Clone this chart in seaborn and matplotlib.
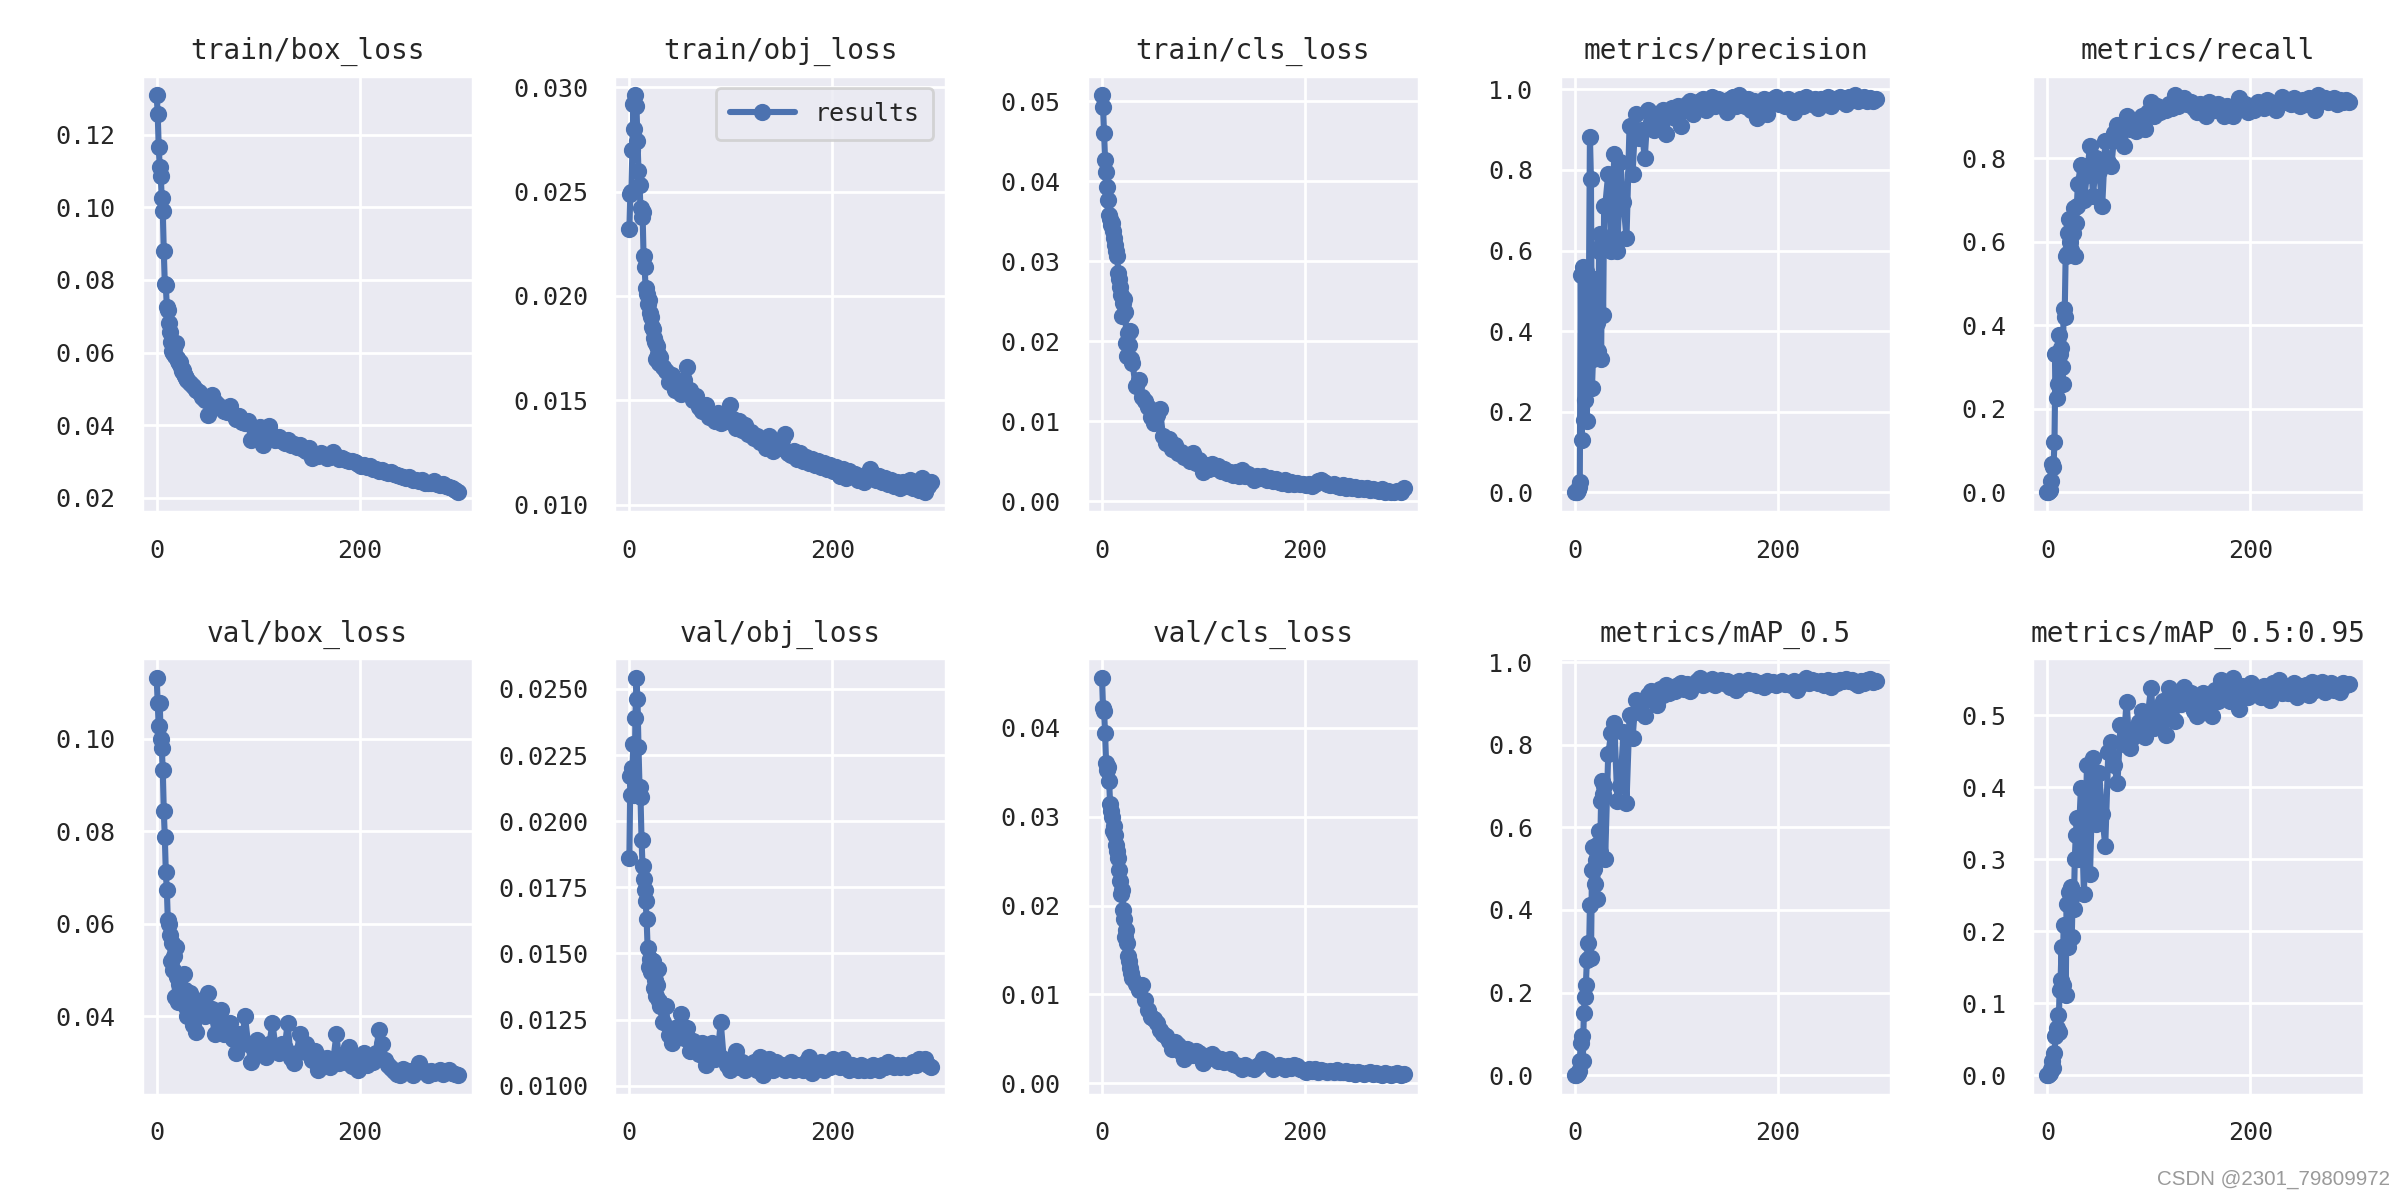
import matplotlib
matplotlib.use('Agg')
import matplotlib.pyplot as plt
import seaborn as sns

# epochs: every epoch for the first 30, then every third epoch
epochs = list(range(0, 30)) + list(range(30, 300, 3))

train_box_loss = [
    0.1308, 0.1258, 0.1166, 0.1111, 0.1085, 0.1026, 0.0990, 0.0879, 0.0790, 0.0785,
    0.0726, 0.0716, 0.0680, 0.0657, 0.0630, 0.0605, 0.0598, 0.0612, 0.0590, 0.0625,
    0.0585, 0.0578, 0.0570, 0.0575, 0.0560, 0.0548, 0.0552, 0.0540, 0.0535, 0.0530,
    0.0525, 0.0515, 0.0508, 0.0498, 0.0492, 0.0478, 0.0470, 0.0428, 0.0482, 0.0465,
    0.0455, 0.0448, 0.0440, 0.0435, 0.0452, 0.0430, 0.0418, 0.0425, 0.0410, 0.0405,
    0.0412, 0.0360, 0.0392, 0.0385, 0.0395, 0.0345, 0.0380, 0.0398, 0.0372, 0.0360,
    0.0368, 0.0355, 0.0350, 0.0358, 0.0345, 0.0348, 0.0340, 0.0345, 0.0335, 0.0330,
    0.0338, 0.0310, 0.0320, 0.0315, 0.0322, 0.0318, 0.0310, 0.0312, 0.0325, 0.0315,
    0.0308, 0.0310, 0.0305, 0.0302, 0.0300, 0.0298, 0.0292, 0.0288, 0.0290, 0.0285,
    0.0288, 0.0280, 0.0278, 0.0275, 0.0277, 0.0270, 0.0268, 0.0270, 0.0265, 0.0262,
    0.0260, 0.0258, 0.0255, 0.0257, 0.0250, 0.0248, 0.0245, 0.0248, 0.0242, 0.0240,
    0.0242, 0.0245, 0.0238, 0.0235, 0.0237, 0.0232, 0.0230, 0.0228, 0.0222, 0.0215,
]
train_obj_loss = [
    0.0232, 0.0249, 0.0250, 0.0270, 0.0292, 0.0280, 0.0296, 0.0291, 0.0274, 0.0260,
    0.0253, 0.0242, 0.0238, 0.0240, 0.0219, 0.0214, 0.0204, 0.0201, 0.0196, 0.0198,
    0.0192, 0.0190, 0.0185, 0.0184, 0.0180, 0.0178, 0.0170, 0.0176, 0.0172, 0.0168,
    0.0171, 0.0166, 0.0164, 0.0159, 0.0162, 0.0155, 0.0158, 0.0153, 0.0160, 0.0166,
    0.0155, 0.0150, 0.0152, 0.0147, 0.0145, 0.0148, 0.0142, 0.0143, 0.0140, 0.0144,
    0.0139, 0.0143, 0.0140, 0.0148, 0.0141, 0.0137, 0.0140, 0.0136, 0.0138, 0.0134,
    0.0135, 0.0132, 0.0133, 0.0130, 0.0131, 0.0127, 0.0133, 0.0126, 0.0129, 0.0127,
    0.0131, 0.0134, 0.0125, 0.0124, 0.0126, 0.0122, 0.0125, 0.0121, 0.0123, 0.0120,
    0.0122, 0.0119, 0.0121, 0.0118, 0.0120, 0.0117, 0.0119, 0.0116, 0.0118, 0.0114,
    0.0117, 0.0113, 0.0116, 0.0114, 0.0115, 0.0112, 0.0114, 0.0111, 0.0113, 0.0117,
    0.0115, 0.0112, 0.0114, 0.0111, 0.0113, 0.0110, 0.0112, 0.0109, 0.0111, 0.0108,
    0.0111, 0.0109, 0.0112, 0.0108, 0.0110, 0.0107, 0.0113, 0.0106, 0.0109, 0.0111,
]
train_cls_loss = [
    0.0507, 0.0492, 0.0460, 0.0426, 0.0411, 0.0392, 0.0376, 0.0358, 0.0352, 0.0345,
    0.0347, 0.0338, 0.0329, 0.0320, 0.0312, 0.0306, 0.0285, 0.0277, 0.0268, 0.0258,
    0.0231, 0.0248, 0.0252, 0.0236, 0.0198, 0.0181, 0.0210, 0.0195, 0.0212, 0.0178,
    0.0173, 0.0144, 0.0152, 0.0130, 0.0125, 0.0118, 0.0105, 0.0098, 0.0108, 0.0115,
    0.0082, 0.0073, 0.0078, 0.0065, 0.0070, 0.0060, 0.0062, 0.0055, 0.0058, 0.0050,
    0.0060, 0.0048, 0.0052, 0.0036, 0.0045, 0.0040, 0.0047, 0.0042, 0.0044, 0.0038,
    0.0040, 0.0035, 0.0037, 0.0033, 0.0036, 0.0032, 0.0039, 0.0031, 0.0034, 0.0030,
    0.0027, 0.0031, 0.0029, 0.0031, 0.0027, 0.0029, 0.0025, 0.0028, 0.0024, 0.0023,
    0.0026, 0.0022, 0.0024, 0.0021, 0.0023, 0.0021, 0.0022, 0.0020, 0.0021, 0.0019,
    0.0022, 0.0025, 0.0027, 0.0024, 0.0022, 0.0020, 0.0021, 0.0019, 0.0018, 0.0020,
    0.0017, 0.0019, 0.0016, 0.0018, 0.0015, 0.0017, 0.0015, 0.0016, 0.0014, 0.0015,
    0.0014, 0.0013, 0.0015, 0.0012, 0.0013, 0.0012, 0.0011, 0.0013, 0.0011, 0.0016,
]
precision = [
    0.000, 0.002, 0.001, 0.005, 0.012, 0.025, 0.540, 0.130, 0.560, 0.180,
    0.230, 0.550, 0.177, 0.440, 0.500, 0.883, 0.777, 0.260, 0.330, 0.390,
    0.450, 0.530, 0.420, 0.350, 0.600, 0.640, 0.330, 0.620, 0.440, 0.710,
    0.710, 0.790, 0.600, 0.840, 0.600, 0.820, 0.720, 0.630, 0.910, 0.790,
    0.940, 0.880, 0.900, 0.830, 0.950, 0.920, 0.900, 0.940, 0.930, 0.950,
    0.890, 0.940, 0.955, 0.930, 0.960, 0.910, 0.950, 0.965, 0.970, 0.940,
    0.960, 0.970, 0.975, 0.950, 0.970, 0.980, 0.960, 0.975, 0.965, 0.970,
    0.945, 0.975, 0.980, 0.960, 0.985, 0.970, 0.960, 0.975, 0.950, 0.970,
    0.930, 0.960, 0.975, 0.940, 0.970, 0.975, 0.980, 0.965, 0.970, 0.960,
    0.975, 0.965, 0.945, 0.970, 0.975, 0.960, 0.980, 0.970, 0.965, 0.975,
    0.955, 0.975, 0.970, 0.980, 0.960, 0.975, 0.970, 0.980, 0.975, 0.965,
    0.980, 0.975, 0.985, 0.970, 0.975, 0.980, 0.972, 0.978, 0.970, 0.975,
]
recall = [
    0.000, 0.000, 0.002, 0.005, 0.028, 0.067, 0.060, 0.120, 0.330, 0.226,
    0.260, 0.376, 0.330, 0.345, 0.300, 0.260, 0.440, 0.420, 0.566, 0.570,
    0.620, 0.655, 0.600, 0.580, 0.650, 0.620, 0.680, 0.566, 0.645, 0.685,
    0.737, 0.784, 0.700, 0.760, 0.830, 0.710, 0.800, 0.770, 0.685, 0.840,
    0.790, 0.780, 0.860, 0.880, 0.840, 0.830, 0.900, 0.870, 0.880, 0.865,
    0.890, 0.900, 0.870, 0.910, 0.935, 0.900, 0.925, 0.910, 0.920, 0.915,
    0.930, 0.920, 0.950, 0.925, 0.940, 0.945, 0.930, 0.935, 0.920, 0.910,
    0.930, 0.920, 0.900, 0.935, 0.925, 0.915, 0.930, 0.920, 0.900, 0.925,
    0.910, 0.900, 0.925, 0.943, 0.920, 0.930, 0.910, 0.925, 0.915, 0.935,
    0.930, 0.920, 0.940, 0.935, 0.925, 0.915, 0.930, 0.946, 0.935, 0.940,
    0.930, 0.945, 0.935, 0.925, 0.940, 0.930, 0.945, 0.935, 0.915, 0.950,
    0.940, 0.945, 0.935, 0.940, 0.945, 0.930, 0.940, 0.935, 0.938, 0.935,
]
val_box_loss = [
    0.1131, 0.1078, 0.1027, 0.1078, 0.1000, 0.0980, 0.0932, 0.0844, 0.0788, 0.0711,
    0.0673, 0.0607, 0.0600, 0.0575, 0.0520, 0.0557, 0.0500, 0.0530, 0.0442, 0.0550,
    0.0485, 0.0430, 0.0470, 0.0440, 0.0460, 0.0448, 0.0430, 0.0492, 0.0456, 0.0420,
    0.0400, 0.0450, 0.0380, 0.0366, 0.0420, 0.0435, 0.0400, 0.0449, 0.0415, 0.0362,
    0.0390, 0.0413, 0.0360, 0.0375, 0.0384, 0.0350, 0.0320, 0.0360, 0.0345, 0.0399,
    0.0340, 0.0300, 0.0330, 0.0348, 0.0335, 0.0320, 0.0312, 0.0340, 0.0384, 0.0334,
    0.0320, 0.0340, 0.0330, 0.0384, 0.0310, 0.0298, 0.0320, 0.0362, 0.0330, 0.0340,
    0.0318, 0.0305, 0.0325, 0.0283, 0.0310, 0.0300, 0.0310, 0.0290, 0.0305, 0.0360,
    0.0298, 0.0315, 0.0300, 0.0334, 0.0292, 0.0310, 0.0283, 0.0305, 0.0319, 0.0295,
    0.0310, 0.0300, 0.0320, 0.0370, 0.0340, 0.0305, 0.0295, 0.0287, 0.0280, 0.0275,
    0.0273, 0.0285, 0.0278, 0.0280, 0.0272, 0.0285, 0.0298, 0.0285, 0.0278, 0.0273,
    0.0280, 0.0276, 0.0278, 0.0283, 0.0275, 0.0280, 0.0283, 0.0276, 0.0275, 0.0273,
]
val_obj_loss = [
    0.0186, 0.0217, 0.0210, 0.0220, 0.0229, 0.0210, 0.0239, 0.0254, 0.0246, 0.0228,
    0.0213, 0.0209, 0.0193, 0.0183, 0.0178, 0.0174, 0.0170, 0.0163, 0.0152, 0.0145,
    0.0148, 0.0143, 0.0147, 0.0147, 0.0137, 0.0140, 0.0134, 0.0138, 0.0144, 0.0132,
    0.0130, 0.0124, 0.0130, 0.0119, 0.0116, 0.0122, 0.0120, 0.0127, 0.0118, 0.0122,
    0.0113, 0.0117, 0.0115, 0.0112, 0.0116, 0.0108, 0.0111, 0.0116, 0.0110, 0.0112,
    0.0124, 0.0110, 0.0108, 0.0106, 0.0109, 0.0113, 0.0107, 0.0109, 0.0106, 0.0108,
    0.0107, 0.0109, 0.0106, 0.0111, 0.0104, 0.0108, 0.0110, 0.0106, 0.0109, 0.0107,
    0.0108, 0.0106, 0.0107, 0.0109, 0.0106, 0.0108, 0.0107, 0.0106, 0.0109, 0.0111,
    0.0105, 0.0108, 0.0107, 0.0109, 0.0106, 0.0108, 0.0107, 0.0110, 0.0109, 0.0107,
    0.0110, 0.0108, 0.0106, 0.0108, 0.0107, 0.0106, 0.0108, 0.0106, 0.0107, 0.0106,
    0.0108, 0.0107, 0.0106, 0.0108, 0.0107, 0.0109, 0.0108, 0.0107, 0.0108, 0.0107,
    0.0108, 0.0107, 0.0108, 0.0109, 0.0108, 0.0110, 0.0109, 0.0110, 0.0108, 0.0107,
]
val_cls_loss = [
    0.0456, 0.0422, 0.0419, 0.0394, 0.0361, 0.0353, 0.0356, 0.0340, 0.0314, 0.0307,
    0.0300, 0.0284, 0.0290, 0.0280, 0.0268, 0.0262, 0.0254, 0.0240, 0.0228, 0.0213,
    0.0218, 0.0195, 0.0185, 0.0165, 0.0172, 0.0158, 0.0143, 0.0138, 0.0130, 0.0124,
    0.0118, 0.0112, 0.0105, 0.0111, 0.0094, 0.0082, 0.0075, 0.0072, 0.0068, 0.0060,
    0.0055, 0.0053, 0.0047, 0.0038, 0.0046, 0.0043, 0.0035, 0.0027, 0.0038, 0.0035,
    0.0032, 0.0036, 0.0034, 0.0023, 0.0031, 0.0028, 0.0033, 0.0030, 0.0025, 0.0027,
    0.0024, 0.0026, 0.0027, 0.0022, 0.0020, 0.0019, 0.0016, 0.0020, 0.0018, 0.0017,
    0.0016, 0.0019, 0.0022, 0.0027, 0.0025, 0.0020, 0.0016, 0.0018, 0.0021, 0.0019,
    0.0016, 0.0019, 0.0017, 0.0020, 0.0019, 0.0016, 0.0015, 0.0012, 0.0016, 0.0014,
    0.0016, 0.0013, 0.0015, 0.0014, 0.0012, 0.0014, 0.0013, 0.0015, 0.0013, 0.0012,
    0.0014, 0.0011, 0.0012, 0.0010, 0.0012, 0.0011, 0.0010, 0.0011, 0.0012, 0.0010,
    0.0011, 0.0010, 0.0009, 0.0011, 0.0010, 0.0009, 0.0010, 0.0011, 0.0009, 0.0010,
]
map_50 = [
    0.000, 0.000, 0.002, 0.005, 0.010, 0.034, 0.078, 0.094, 0.034, 0.150,
    0.190, 0.218, 0.279, 0.319, 0.283, 0.411, 0.283, 0.496, 0.552, 0.500,
    0.463, 0.520, 0.427, 0.560, 0.590, 0.540, 0.664, 0.712, 0.680, 0.700,
    0.524, 0.777, 0.829, 0.853, 0.664, 0.700, 0.830, 0.660, 0.873, 0.817,
    0.909, 0.880, 0.900, 0.869, 0.920, 0.929, 0.905, 0.897, 0.935, 0.920,
    0.945, 0.925, 0.940, 0.930, 0.945, 0.950, 0.935, 0.948, 0.929, 0.945,
    0.955, 0.961, 0.945, 0.955, 0.950, 0.960, 0.945, 0.955, 0.958, 0.950,
    0.955, 0.940, 0.950, 0.933, 0.955, 0.945, 0.950, 0.958, 0.949, 0.955,
    0.945, 0.950, 0.940, 0.955, 0.948, 0.952, 0.945, 0.950, 0.955, 0.947,
    0.950, 0.945, 0.955, 0.933, 0.945, 0.955, 0.961, 0.950, 0.958, 0.955,
    0.950, 0.955, 0.945, 0.958, 0.941, 0.955, 0.950, 0.957, 0.955, 0.960,
    0.955, 0.958, 0.950, 0.945, 0.955, 0.950, 0.957, 0.960, 0.953, 0.955,
]
map_50_95 = [
    0.000, 0.000, 0.001, 0.003, 0.008, 0.019, 0.010, 0.031, 0.054, 0.065,
    0.084, 0.060, 0.118, 0.132, 0.178, 0.125, 0.208, 0.178, 0.111, 0.238,
    0.178, 0.254, 0.238, 0.261, 0.192, 0.250, 0.230, 0.300, 0.334, 0.357,
    0.300, 0.399, 0.252, 0.431, 0.279, 0.440, 0.348, 0.420, 0.362, 0.318,
    0.449, 0.463, 0.430, 0.405, 0.486, 0.460, 0.518, 0.454, 0.470, 0.479,
    0.490, 0.505, 0.470, 0.500, 0.537, 0.482, 0.510, 0.495, 0.520, 0.472,
    0.537, 0.510, 0.491, 0.525, 0.515, 0.539, 0.520, 0.530, 0.505, 0.498,
    0.520, 0.530, 0.515, 0.525, 0.498, 0.535, 0.520, 0.548, 0.530, 0.540,
    0.520, 0.551, 0.530, 0.509, 0.540, 0.537, 0.525, 0.545, 0.530, 0.537,
    0.525, 0.540, 0.530, 0.521, 0.545, 0.535, 0.548, 0.530, 0.540, 0.530,
    0.538, 0.545, 0.525, 0.540, 0.535, 0.542, 0.528, 0.546, 0.535, 0.540,
    0.546, 0.532, 0.540, 0.545, 0.535, 0.540, 0.532, 0.545, 0.541, 0.543,
]

titles = ['train/box_loss', 'train/obj_loss', 'train/cls_loss', 'metrics/precision', 'metrics/recall',
          'val/box_loss', 'val/obj_loss', 'val/cls_loss', 'metrics/mAP_0.5', 'metrics/mAP_0.5:0.95']
series = [train_box_loss, train_obj_loss, train_cls_loss, precision, recall,
          val_box_loss, val_obj_loss, val_cls_loss, map_50, map_50_95]

sns.set_theme(style='darkgrid')
plt.rcParams['font.family'] = ['DejaVu Sans Mono']
color = sns.color_palette('deep')[0]

fig, axes = plt.subplots(2, 5, figsize=(12, 6), dpi=200)
fig.subplots_adjust(left=0.059, right=0.985, top=0.937, bottom=0.0875, wspace=0.425, hspace=0.335)

for i, ax in enumerate(axes.ravel()):
    sns.lineplot(x=epochs, y=series[i], ax=ax, color=color, marker='.', markersize=10,
                 linewidth=2.2, markeredgecolor=color, markeredgewidth=1.2,
                 label='results' if i == 1 else None)
    ax.set_title(titles[i], fontsize=10)
    ax.tick_params(labelsize=9)
    ax.set_xticks([0, 200])
    if i == 1:
        ax.legend(loc='upper right', fontsize=9, handlelength=2.6, borderpad=0.55)
    elif ax.get_legend() is not None:
        ax.get_legend().remove()

fig.text(0.996, 0.009, 'CSDN @2301_79809972', ha='right', va='bottom',
         fontsize=7.4, color='#9a9a9a', family=['Liberation Sans'])

fig.savefig('out.png', dpi=200)
